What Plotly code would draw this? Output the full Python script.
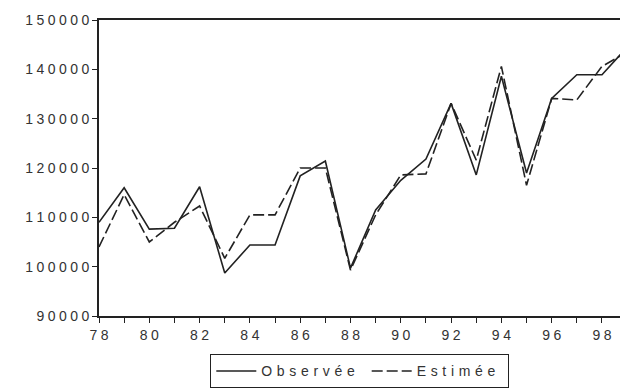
import plotly.graph_objects as go

# data
years = list(range(78, 100))
observee = [109000, 116000, 107600, 107800, 116200, 98700, 104400, 104400,
            118400, 121400, 99700, 111500, 117500, 121800, 133100, 118600,
            138600, 119000, 134100, 138900, 138900, 144500]
estimee = [104000, 114600, 105000, 109000, 112300, 101700, 110500, 110500,
           120000, 120000, 99300, 110500, 118600, 118800, 133100, 121600,
           140600, 116500, 134100, 133800, 140600, 143500]

y_ticks = [90000, 100000, 110000, 120000, 130000, 140000, 150000]
x_ticks = [78, 80, 82, 84, 86, 88, 90, 92, 94, 96, 98]


def spaced(s, sp="\u2005"):
    # fake letter spacing like the old printout
    return sp.join(str(s))


fig = go.Figure()
fig.add_trace(go.Scatter(x=years, y=observee, mode="lines",
                         name=spaced("Observée", "\u2004") + "\u2002",
                         line=dict(color="#222", width=1.6)))
fig.add_trace(go.Scatter(x=years, y=estimee, mode="lines",
                         name=spaced("Estimée", "\u2004") + "\u2002",
                         line=dict(color="#222", width=1.6, dash="11px,4px")))

fig.update_layout(
    width=620, height=390,
    margin=dict(l=99, r=0, t=20, b=74),
    paper_bgcolor="white", plot_bgcolor="white",
    font=dict(family="Liberation Sans, Arial, sans-serif", size=14, color="#333"),
    showlegend=True,
    legend=dict(orientation="h", x=0.5, xanchor="center",
                yref="container", y=0.005, yanchor="bottom",
                bordercolor="#222", borderwidth=1.3, font=dict(size=14, color="#333"),
                itemwidth=40, tracegroupgap=0),
)
fig.update_xaxes(range=[78, 98.716], showgrid=False, zeroline=False, automargin=False,
                 showline=True, linecolor="#222", linewidth=1.6, mirror=True,
                 ticks="outside", ticklen=5, tickcolor="#222", tickwidth=1.3,
                 tickvals=x_ticks, ticktext=[spaced(v) for v in x_ticks],
                 minor=dict(dtick=1, tick0=78, ticks="outside", ticklen=5,
                            tickcolor="#222", tickwidth=1.3))
fig.update_yaxes(range=[90000, 150000], showgrid=False, zeroline=False, automargin=False,
                 showline=True, linecolor="#222", linewidth=1.6,
                 ticks="outside", ticklen=5, tickcolor="#222", tickwidth=1.3,
                 tickvals=y_ticks, ticktext=[spaced(v) for v in y_ticks])

# drop the browser's default 8px body margin so the figure sits at 0,0
fig.write_html("out.html", config={"displayModeBar": False},
               post_script="document.body.style.margin='0';")
